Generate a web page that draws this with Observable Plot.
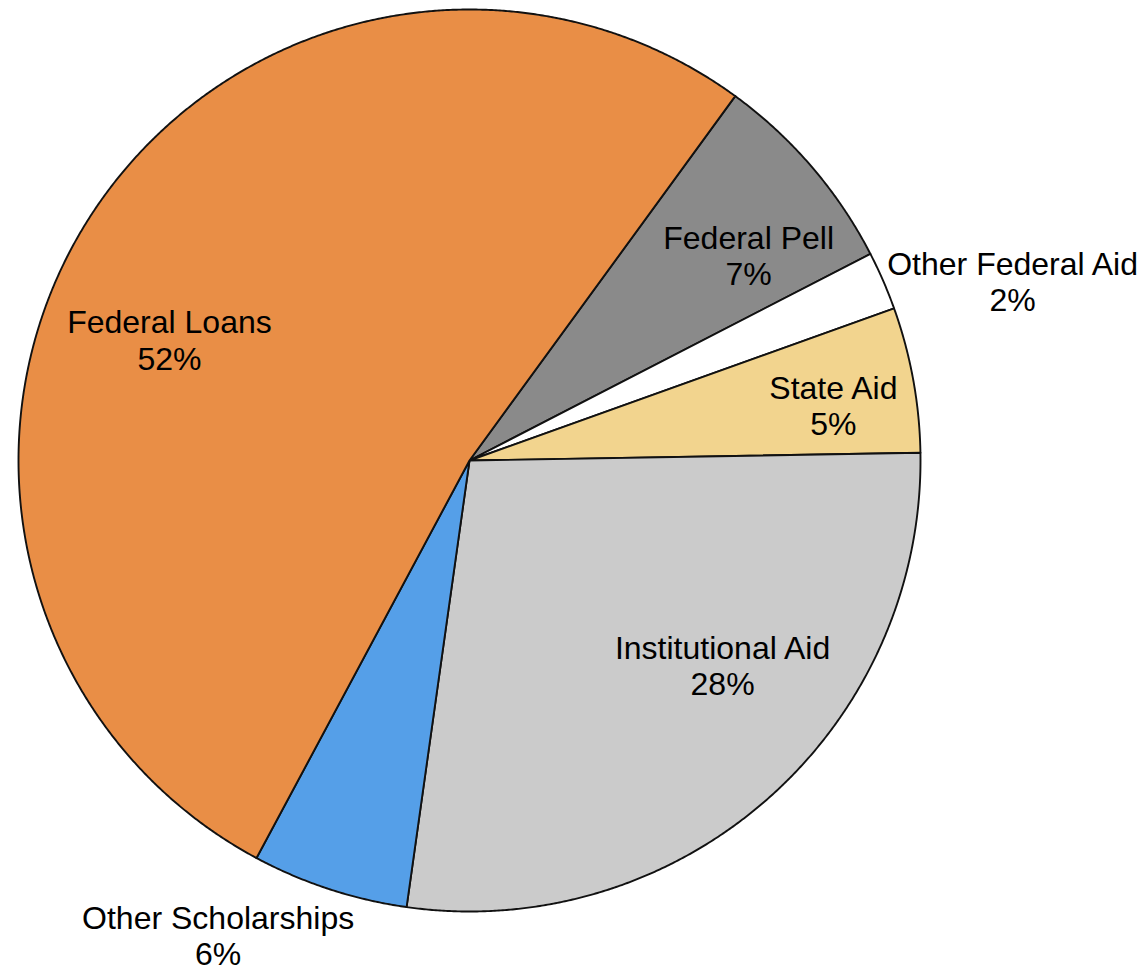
<!DOCTYPE html>
<html>
<head>
<meta charset="utf-8">
<script src="https://cdn.jsdelivr.net/npm/d3@7"></script>
<script src="https://cdn.jsdelivr.net/npm/@observablehq/plot@0.6"></script>
<style>
  html, body { margin: 0; padding: 0; background: #fff; }
  #chart svg { display: block; }
</style>
</head>
<body>
<div id="chart"></div>
<script>
// Data (clockwise order, starting at the Federal Pell slice)
const categories = ["Federal Pell", "Other Federal Aid", "State Aid", "Institutional Aid", "Other Scholarships", "Federal Loans"];
const shares = [7.4, 2.1, 5.2, 27.5, 5.6, 52.2];
const labels = ["7%", "2%", "5%", "28%", "6%", "52%"];
const colors = ["#8a8a8a", "#ffffff", "#f2d48e", "#cbcbcb", "#559fe8", "#e98e46"];

// Layout (not data): start angle of first slice, label placement in polar terms
const startAngleDeg = 36.1;
const labelAngleDeg = [53.7, 71.75, 81.4, 129.0, 207.9, 291.9];
const labelRadius = [0.768, 1.268, 0.816, 0.722, 1.191, 0.717];

const W = 1145, H = 971, CX = 469, CY = 460, R = 451;

const total = d3.sum(shares);
const slicePts = [];
let a = startAngleDeg * Math.PI / 180;
categories.forEach((c, i) => {
  const a0 = a, a1 = a + shares[i] / total * 2 * Math.PI;
  a = a1;
  slicePts.push({cat: c, x: 0, y: 0});
  const n = Math.max(2, Math.ceil((a1 - a0) / (0.25 * Math.PI / 180)));
  for (let k = 0; k <= n; k++) {
    const t = a0 + (a1 - a0) * k / n;
    slicePts.push({cat: c, x: Math.sin(t), y: Math.cos(t)});
  }
});

const labelData = categories.map((c, i) => {
  const t = labelAngleDeg[i] * Math.PI / 180;
  return {text: c + "\n" + labels[i], x: labelRadius[i] * Math.sin(t), y: labelRadius[i] * Math.cos(t)};
});

const chart = Plot.plot({
  width: W,
  height: H,
  margin: 0,
  style: {fontFamily: "'Liberation Sans', Arial, sans-serif", background: "#fff"},
  x: {domain: [-CX / R, (W - CX) / R], axis: null},
  y: {domain: [-(H - CY) / R, CY / R], axis: null},
  color: {domain: categories, range: colors},
  marks: [
    Plot.line(slicePts, {
      x: "x", y: "y", z: "cat", fill: "cat",
      stroke: "#111", strokeWidth: 1.9, strokeLinejoin: "round",
      curve: "linear-closed"
    }),
    Plot.text(labelData, {
      x: "x", y: "y", text: "text",
      fontSize: 32, lineHeight: 1.14, lineAnchor: "middle", textAnchor: "middle",
      fill: "#000"
    })
  ]
});
document.getElementById("chart").appendChild(chart);
</script>
</body>
</html>
